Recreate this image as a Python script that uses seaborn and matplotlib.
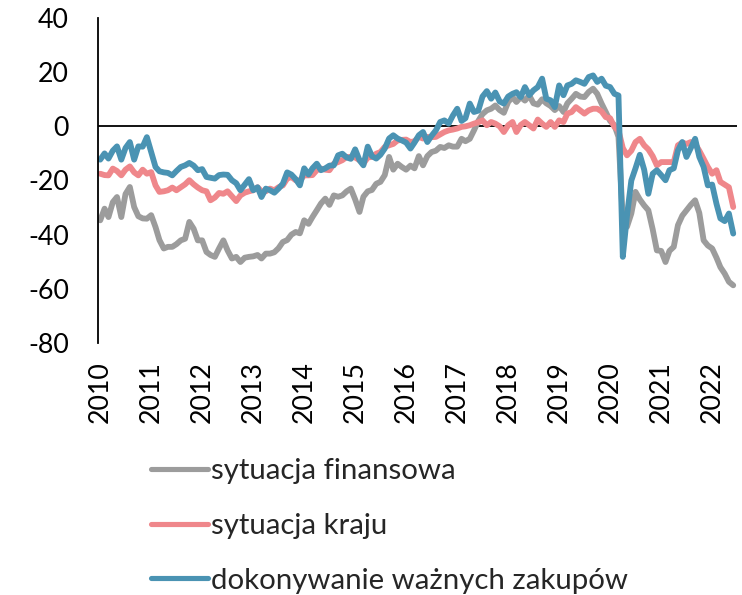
import numpy as np
import pandas as pd
import matplotlib
matplotlib.use("Agg")
import matplotlib.pyplot as plt
import seaborn as sns

# ---- data (monthly, Jan 2010 - Jun 2022) ----
start_month = "2010-01-01"
n_months = 150
series_names = ["sytuacja finansowa", "sytuacja kraju", "dokonywanie ważnych zakupów"]
year_labels = [str(y) for y in range(2010, 2023)]

sytuacja_finansowa = [
    -34.7, -30.4, -33.5, -28, -26.1, -33.5, -25, -22.4, -29.8, -33.2, -34, -34.1,
    -32.8, -37.2, -42, -45.1, -44.5, -44.5, -43.5, -42.1, -41.5, -35.3, -37.8, -42.1,
    -42.1, -46.4, -47.5, -48.2, -45.1, -42.1, -45.8, -48.8, -48.2, -50.1, -48.5, -48.2,
    -48, -47.5, -48.8, -47, -47, -46.5, -45, -42.7, -42, -40, -39, -39.5,
    -34.7, -36, -33.5, -31, -28.5, -26.7, -29, -25.5, -26, -25.5, -24, -23,
    -27, -31.6, -26, -24, -23.5, -21.2, -20.5, -18, -11.3, -16, -13.8, -15,
    -16, -14.5, -15.5, -11, -14.4, -11, -9.5, -9, -7.6, -8, -7, -7.5,
    -7.5, -4.6, -5.5, -4.6, -1.5, 2, 4.5, 5.9, 6.5, 7.7, 6, 5,
    9, 10.8, 9, 10.8, 9.5, 11.4, 8.5, 8, 10, 8.5, 7.5, 6,
    7.5, 5.3, 8.5, 10.2, 12, 11, 10.8, 12.7, 13.9, 12, 8.4, 5.3,
    2, 0.4, -3.9, -34, -37.1, -32.2, -24.2, -27, -29.2, -31, -38, -45.8,
    -46, -50.1, -46, -44.5, -36.5, -33, -31, -29, -27.3, -32, -42.1, -44,
    -45.1, -48.5, -52, -54.4, -57.4, -58.7,
]

sytuacja_kraju = [
    -17.5, -18, -18.1, -15.6, -16.5, -18.1, -16, -14.8, -17, -18.1, -16, -17.5,
    -16.9, -21.8, -24.2, -24, -23.6, -22.6, -23.6, -22.5, -21.4, -19.9, -21.4, -22.6,
    -23.6, -24, -27.3, -26.3, -24.6, -24.9, -24, -25.8, -27.6, -25.5, -24.5, -24,
    -23.6, -22.5, -24, -24, -23, -23.6, -22.5, -21.8, -19.3, -18.7, -19.9, -20,
    -18.1, -18.1, -18, -16.2, -15.6, -16, -16.2, -13.8, -13.2, -12.5, -11.3, -11.3,
    -11.5, -12.5, -13.8, -11.5, -11.3, -10.1, -9.5, -7.6, -7, -6.5, -5.2, -5,
    -4.9, -5.8, -5.5, -3.9, -4.5, -3.9, -4, -3.9, -3, -2.1, -1.5, -1.2,
    -0.8, -0.2, 0, 0.4, 1, 1.5, 2.2, 0.4, 1.6, 1, 0, -2.1,
    0.4, 1.6, -2.1, 0.5, 1.6, 0.4, -0.8, 2.5, 1, -0.2, 1.6, -0.2,
    2.2, 1.6, 4.7, 5.3, 7.1, 5.9, 4.7, 5.9, 6.5, 6.5, 5.5, 3.4,
    3, -0.2, -1.5, -8, -10.7, -9, -5.8, -4.6, -7, -8.5, -11, -14.4,
    -13.2, -13.2, -13.2, -13.2, -7, -6, -6.5, -5.8, -6.5, -9, -12, -15,
    -17.5, -16.2, -20.5, -21.5, -22.5, -29.8,
]

wazne_zakupy = [
    -12.3, -10, -11.9, -9, -7.4, -12.3, -8, -5.8, -12.3, -7.4, -7.5, -4,
    -9.5, -15, -16.6, -17, -17.2, -18.1, -16.5, -15, -14.4, -13.5, -14.5, -16.2,
    -15.8, -18.7, -19, -19.3, -18, -17.8, -17.9, -19.9, -21, -23.6, -21.5, -19.5,
    -23.6, -22.5, -26.1, -23, -23.6, -24.5, -23, -21.2, -17, -17.8, -19.5, -21.8,
    -15.5, -17.8, -15.5, -13.8, -16.2, -15.5, -14.5, -14.4, -10.7, -10.1, -11.5, -12,
    -8.5, -12.5, -14.4, -7.5, -11, -11.9, -10.5, -8.2, -4.5, -3.3, -4.5, -5.2,
    -6, -8.2, -6, -3.3, -2.1, -5.8, -3.5, -1.5, 1.6, 2.2, 1, 4,
    6.5, 2, 3, 8.4, 5.3, 5.8, 11, 13, 10.2, 12.5, 9.2, 8.4,
    11, 12, 12.6, 10.8, 14.5, 11.5, 13.3, 14.5, 17.6, 10.2, 9.6, 7.1,
    15.1, 11.5, 15.1, 15.7, 17, 16.4, 15.7, 18.2, 18.8, 16.4, 17.6, 15,
    14.5, 12, 11.4, -48.2, -33, -20, -15.5, -10.5, -16, -24.9, -17.5, -16.2,
    -18, -19.9, -16.2, -15.5, -8.9, -5.8, -11.3, -8, -4.6, -11.3, -15, -21.8,
    -21.5, -28.6, -34, -35, -32.2, -39.6,
]

colors = ["#9c9c9c", "#ef878b", "#4a93b3"]

dates = pd.date_range(start_month, periods=n_months, freq="MS")
df = pd.DataFrame({
    "date": np.tile(dates, 3),
    "value": sytuacja_finansowa + sytuacja_kraju + wazne_zakupy,
    "series": np.repeat(series_names, n_months),
})

sns.set_theme(style="white")
plt.rcParams["font.family"] = ["Lato", "DejaVu Sans"]
FS_TICK = 19.3
FS_LEG = 21.2

fig = plt.figure(figsize=(7.42, 5.95), dpi=100)
ax = fig.add_axes([98 / 742, 1 - 343 / 595, (737 - 98) / 742, (343 - 18) / 595])

sns.lineplot(data=df, x="date", y="value", hue="series", hue_order=series_names,
             palette=colors, linewidth=4.2, ax=ax, legend=False)

ax.axhline(0, color="black", linewidth=1.3, zorder=1)

ax.set_ylim(-80, 40)
ax.set_yticks(range(-80, 41, 20))
ax.set_yticklabels([str(v) for v in range(-80, 41, 20)], fontsize=FS_TICK, color="black")
ax.set_xlim(pd.Timestamp("2009-12-16"), pd.Timestamp("2022-06-28"))
year_ticks = [pd.Timestamp(f"{y}-01-01") for y in year_labels]
ax.set_xticks(year_ticks)
ax.set_xticklabels(year_labels, rotation=90, fontsize=FS_TICK, color="black")
ax.tick_params(axis="x", length=0, pad=13)
ax.tick_params(axis="y", length=0, pad=21)

ax.set_xlabel("")
ax.set_ylabel("")
for s in ["top", "right", "bottom"]:
    ax.spines[s].set_visible(False)
ax.spines["left"].set_color("black")
ax.spines["left"].set_linewidth(1.3)
ax.grid(False)

handles = ax.get_lines()[:3]
leg = fig.legend(handles, series_names, loc="upper left",
                 bbox_to_anchor=(151 / 742, 1 - 458 / 595), frameon=False,
                 fontsize=FS_LEG, handlelength=1.93, handletextpad=0.12,
                 labelspacing=0.98, borderaxespad=0, borderpad=0)
for ln in leg.get_lines():
    ln.set_linewidth(3.7)

fig.savefig("out.png", dpi=100)
